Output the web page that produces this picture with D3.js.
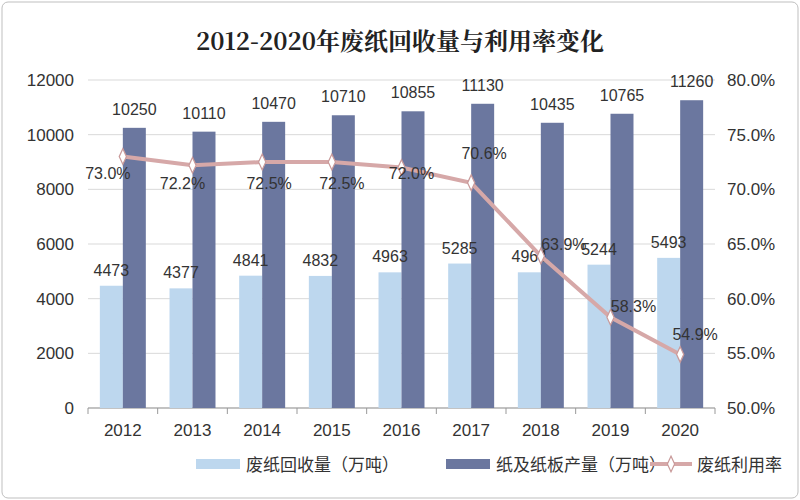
<!DOCTYPE html><html><head><meta charset="utf-8">
<script src="https://cdn.jsdelivr.net/npm/d3@7"></script>
<style>body{margin:0;background:#fff}</style></head><body>
<svg id="c" width="800" height="500"></svg>
<script>
const years=["2012","2013","2014","2015","2016","2017","2018","2019","2020"];
const recovered=[4473,4377,4841,4832,4963,5285,4964,5244,5493];
const production=[10250,10110,10470,10710,10855,11130,10435,10765,11260];
const rate=[73.0,72.2,72.5,72.5,72.0,70.6,63.9,58.3,54.9];
const leftTicks=[0,2000,4000,6000,8000,10000,12000];
const rightTicks=[50,55,60,65,70,75,80];
const svg=d3.select("#c");
const F="'Liberation Sans',Arial,sans-serif";
svg.append("rect").attr("x",2).attr("y",2).attr("width",796).attr("height",496).attr("rx",6).attr("fill","#fff").attr("stroke","#bfbfbf");
svg.append("text").attr("x",400).attr("y",50).attr("text-anchor","middle").attr("font-family","'Noto Serif CJK SC','Noto Sans CJK SC',serif").attr("font-weight","bold").attr("font-size",24).attr("fill","#222").text("2012-2020年废纸回收量与利用率变化");
const L=88,R=715,T=80,B=408;
const x=d3.scaleBand().domain(years).range([L,R]);
const y=d3.scaleLinear().domain([0,12000]).range([B,T]);
const y2=d3.scaleLinear().domain([50,80]).range([B,T]);
svg.append("g").selectAll("line").data(leftTicks).join("line").attr("x1",L).attr("x2",R).attr("y1",d=>y(d)).attr("y2",d=>y(d)).attr("stroke","#d9d9d9");
svg.append("g").selectAll("text").data(leftTicks).join("text").attr("x",L-14).attr("y",d=>y(d)+6).attr("text-anchor","end").attr("font-family",F).attr("font-size",17).attr("fill","#333").text(d=>d);
svg.append("g").selectAll("text").data(rightTicks).join("text").attr("x",R+12).attr("y",d=>y2(d)+6).attr("font-family",F).attr("font-size",17).attr("fill","#333").text(d=>d.toFixed(1)+"%");
svg.append("line").attr("x1",L).attr("x2",R).attr("y1",B).attr("y2",B).attr("stroke","#999");
svg.append("g").selectAll("line").data(years.concat(["end"])).join("line").attr("x1",(d,i)=>L+i*x.bandwidth()).attr("x2",(d,i)=>L+i*x.bandwidth()).attr("y1",B).attr("y2",B+6).attr("stroke","#999");
svg.append("g").selectAll("text").data(years).join("text").attr("x",d=>x(d)+x.bandwidth()/2).attr("y",B+28).attr("text-anchor","middle").attr("font-family",F).attr("font-size",17).attr("fill","#333").text(d=>d);
const bw=x.bandwidth()*0.33, off=x.bandwidth()*0.5;
svg.append("g").selectAll("rect").data(recovered).join("rect").attr("x",(d,i)=>x(years[i])+off-bw).attr("y",d=>y(d)).attr("width",bw).attr("height",d=>B-y(d)).attr("fill","#bdd7ee");
svg.append("g").selectAll("rect").data(production).join("rect").attr("x",(d,i)=>x(years[i])+off).attr("y",d=>y(d)).attr("width",bw).attr("height",d=>B-y(d)).attr("fill","#6b779f");
svg.append("g").selectAll("text").data(recovered).join("text").attr("x",(d,i)=>x(years[i])+off-bw/2).attr("y",d=>y(d)-10).attr("text-anchor","middle").attr("font-family",F).attr("font-size",16).attr("fill","#333").text(d=>d);
svg.append("g").selectAll("text").data(production).join("text").attr("x",(d,i)=>x(years[i])+off+bw/2).attr("y",d=>y(d)-13).attr("text-anchor","middle").attr("font-family",F).attr("font-size",16).attr("fill","#333").text(d=>d);
const cx=i=>x(years[i])+off;
svg.append("path").datum(rate).attr("d",d3.line().x((d,i)=>cx(i)).y(d=>y2(d))).attr("fill","none").attr("stroke","#d6a8a8").attr("stroke-width",4);
svg.append("g").selectAll("path").data(rate).join("path").attr("d",d3.symbol(d3.symbolDiamond,70)).attr("transform",(d,i)=>`translate(${cx(i)},${y2(d)}) scale(0.8,1)`).attr("fill","#fff").attr("stroke","#c99a9a").attr("stroke-width",1.5);
// label offsets (dx, dy) relative to each point
const lblOff=[[-15,22],[-10,24],[7,27],[10,27],[10,12],[13,-24],[23,-6],[23,-5],[15,-14]];
svg.append("g").selectAll("text").data(rate).join("text").attr("x",(d,i)=>cx(i)+lblOff[i][0]).attr("y",(d,i)=>y2(d)+lblOff[i][1]).attr("text-anchor","middle").attr("font-family",F).attr("font-size",16).attr("fill","#333").text(d=>d.toFixed(1)+"%");
const lg=svg.append("g").attr("font-family","'Noto Sans CJK SC',sans-serif").attr("font-size",17).attr("fill","#333");
lg.append("rect").attr("x",196).attr("y",459).attr("width",44).attr("height",10).attr("fill","#bdd7ee");
lg.append("text").attr("x",246).attr("y",471).text("废纸回收量（万吨）");
lg.append("rect").attr("x",446).attr("y",459).attr("width",44).attr("height",10).attr("fill","#6b779f");
lg.append("text").attr("x",496).attr("y",471).text("纸及纸板产量（万吨）");
lg.append("line").attr("x1",650).attr("x2",692).attr("y1",464).attr("y2",464).attr("stroke","#d6a8a8").attr("stroke-width",4);
lg.append("path").attr("d",d3.symbol(d3.symbolDiamond,70)).attr("transform","translate(671,464) scale(0.8,1)").attr("fill","#fff").attr("stroke","#c99a9a").attr("stroke-width",1.5);
lg.append("text").attr("x",697).attr("y",471).text("废纸利用率");
</script></body></html>
